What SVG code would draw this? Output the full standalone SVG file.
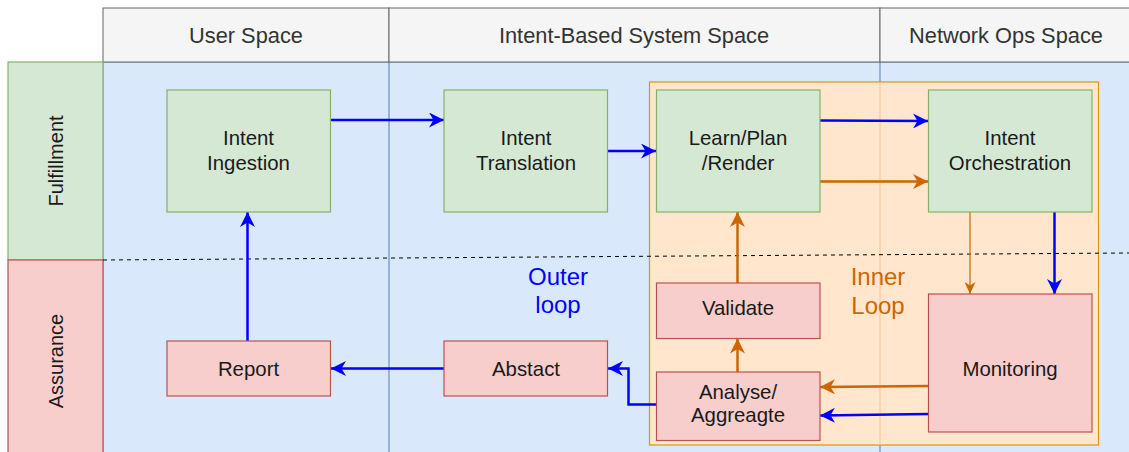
<svg xmlns="http://www.w3.org/2000/svg" width="1129" height="452" viewBox="0 0 1129 452">
  <style>
    .hdr { fill: #f5f5f5; stroke: #666666; stroke-width: 1; }
    .hdr-t { font-family: "Liberation Sans", Arial, sans-serif; font-size: 21.8px; fill: #333333; text-anchor: middle; }
    .lane-t { font-family: "Liberation Sans", Arial, sans-serif; font-size: 20px; fill: #1a1a1a; text-anchor: middle; dominant-baseline: central; }
    .ful { fill: #d5e8d4; stroke: #82b366; stroke-width: 1.2; }
    .ass { fill: #f8cecc; stroke: #b85450; stroke-width: 1.2; }
    .node-t { font-family: "Liberation Sans", Arial, sans-serif; font-size: 20.4px; fill: #1a1a1a; text-anchor: middle; }
    .loop-t { font-family: "Liberation Sans", Arial, sans-serif; font-size: 24px; text-anchor: middle; }
    .blue { stroke: #0000ff; stroke-width: 2.5; fill: none; }
    .orange { stroke: #cc6600; stroke-width: 2.5; fill: none; }
    .orange-thin { stroke: #cc6600; stroke-width: 1.2; fill: none; }
  </style>
  <defs>
    <marker id="arrBlue" markerUnits="userSpaceOnUse" markerWidth="16" markerHeight="15" refX="15" refY="7.5" orient="auto">
      <path d="M0,0 L15,7.5 L0,15 L4.5,7.5 z" fill="#0000ff"/>
    </marker>
    <marker id="arrOrange" markerUnits="userSpaceOnUse" markerWidth="16" markerHeight="15" refX="15" refY="7.5" orient="auto">
      <path d="M0,0 L15,7.5 L0,15 L4.5,7.5 z" fill="#cc6600"/>
    </marker>
    <marker id="arrOrangeSm" markerUnits="userSpaceOnUse" markerWidth="12" markerHeight="11" refX="12" refY="5.5" orient="auto">
      <path d="M0,0 L12,5.5 L0,11 L3.5,5.5 z" fill="#cc6600"/>
    </marker>
  </defs>

  <rect width="1129" height="452" fill="#ffffff"/>

  <!-- swimlane pool -->
  <g id="pool">
    <rect x="103" y="62" width="1040" height="400" fill="#dae8fc" stroke="#6c8ebf" stroke-width="1"/>
    <line x1="389" y1="62" x2="389" y2="452" stroke="#6c8ebf" stroke-width="1.2"/>
    <line x1="880" y1="62" x2="880" y2="452" stroke="#6c8ebf" stroke-width="1.2"/>
  </g>

  <!-- column headers -->
  <g id="col-user">
    <rect class="hdr" x="103" y="8" width="286" height="54"/>
    <text class="hdr-t" x="246" y="43">User Space</text>
  </g>
  <g id="col-ibs">
    <rect class="hdr" x="389" y="8" width="491" height="54"/>
    <text class="hdr-t" x="634" y="43">Intent-Based System Space</text>
  </g>
  <g id="col-netops">
    <rect class="hdr" x="880" y="8" width="260" height="54"/>
    <text class="hdr-t" x="1006" y="43">Network Ops Space</text>
  </g>

  <!-- row headers -->
  <g id="row-fulfillment">
    <rect class="ful" x="8" y="62" width="95" height="198"/>
    <text class="lane-t" transform="translate(56,161) rotate(-90)">Fulfillment</text>
  </g>
  <g id="row-assurance">
    <rect class="ass" x="8" y="260" width="95" height="200"/>
    <text class="lane-t" transform="translate(56,361) rotate(-90)">Assurance</text>
  </g>

  <!-- inner loop region -->
  <g id="inner-loop">
    <rect x="649.5" y="82" width="449" height="363" fill="#ffe6cc" stroke="#d79b00" stroke-width="1.2"/>
    <line x1="880" y1="82.6" x2="880" y2="444.4" stroke="#ffc894" stroke-width="1.2"/>
    <text class="loop-t" x="878" y="285" fill="#cc6600">Inner</text>
    <text class="loop-t" x="878" y="314" fill="#cc6600">Loop</text>
  </g>

  <g id="outer-loop-label">
    <text class="loop-t" x="558" y="285" fill="#0000ff">Outer</text>
    <text class="loop-t" x="558" y="313" fill="#0000ff">loop</text>
  </g>

  <!-- boundary between fulfillment and assurance -->
  <line x1="103" y1="260" x2="1129" y2="253" stroke="#000000" stroke-width="1" stroke-dasharray="4 4"/>

  <!-- connectors -->
  <g id="connectors">
    <line class="blue" x1="331" y1="120" x2="444" y2="120" marker-end="url(#arrBlue)"/>
    <line class="blue" x1="608" y1="151" x2="656" y2="151" marker-end="url(#arrBlue)"/>
    <line class="blue" x1="820" y1="120.5" x2="928" y2="121" marker-end="url(#arrBlue)"/>
    <line class="orange" x1="820" y1="181.5" x2="928" y2="181.5" marker-end="url(#arrOrange)"/>
    <line class="orange-thin" x1="970" y1="212" x2="970" y2="294" marker-end="url(#arrOrangeSm)"/>
    <line class="blue" x1="1054.5" y1="212" x2="1054.5" y2="294" marker-end="url(#arrBlue)"/>
    <line class="orange" x1="928" y1="386" x2="820" y2="387" marker-end="url(#arrOrange)"/>
    <line class="blue" x1="928" y1="414" x2="820" y2="415.5" marker-end="url(#arrBlue)"/>
    <line class="orange" x1="737.5" y1="372" x2="737.5" y2="338.5" marker-end="url(#arrOrange)"/>
    <line class="orange" x1="737.5" y1="283" x2="737.5" y2="212" marker-end="url(#arrOrange)"/>
    <polyline class="blue" points="656,404.5 628.5,404.5 628.5,368.5 608,368.5" marker-end="url(#arrBlue)"/>
    <line class="blue" x1="444" y1="368.5" x2="331" y2="368.5" marker-end="url(#arrBlue)"/>
    <line class="blue" x1="247.5" y1="341" x2="247.5" y2="212" marker-end="url(#arrBlue)"/>
  </g>

  <!-- fulfillment nodes -->
  <g id="intent-ingestion">
    <rect class="ful" x="167" y="90" width="163.5" height="122"/>
    <text class="node-t" x="248.5" y="145">Intent</text>
    <text class="node-t" x="248.5" y="170">Ingestion</text>
  </g>
  <g id="intent-translation">
    <rect class="ful" x="444" y="90" width="163.5" height="122"/>
    <text class="node-t" x="526" y="145">Intent</text>
    <text class="node-t" x="526" y="170">Translation</text>
  </g>
  <g id="learn-plan-render">
    <rect class="ful" x="656.5" y="90" width="163.5" height="122"/>
    <text class="node-t" x="738" y="145">Learn/Plan</text>
    <text class="node-t" x="738" y="170">/Render</text>
  </g>
  <g id="intent-orchestration">
    <rect class="ful" x="928.5" y="90" width="163.5" height="122"/>
    <text class="node-t" x="1010" y="145">Intent</text>
    <text class="node-t" x="1010" y="170">Orchestration</text>
  </g>

  <!-- assurance nodes -->
  <g id="report">
    <rect class="ass" x="167" y="341" width="163.5" height="55"/>
    <text class="node-t" x="248.5" y="376">Report</text>
  </g>
  <g id="abstact">
    <rect class="ass" x="444" y="341" width="163.5" height="55"/>
    <text class="node-t" x="526" y="376">Abstact</text>
  </g>
  <g id="validate">
    <rect class="ass" x="656.5" y="283" width="163.5" height="55.5"/>
    <text class="node-t" x="738" y="315">Validate</text>
  </g>
  <g id="analyse-aggregate">
    <rect class="ass" x="656.5" y="372" width="163.5" height="68.5"/>
    <text class="node-t" x="738" y="398.5">Analyse/</text>
    <text class="node-t" x="738" y="422">Aggreagte</text>
  </g>
  <g id="monitoring">
    <rect class="ass" x="928.5" y="294" width="163.5" height="138"/>
    <text class="node-t" x="1010" y="376">Monitoring</text>
  </g>
</svg>
